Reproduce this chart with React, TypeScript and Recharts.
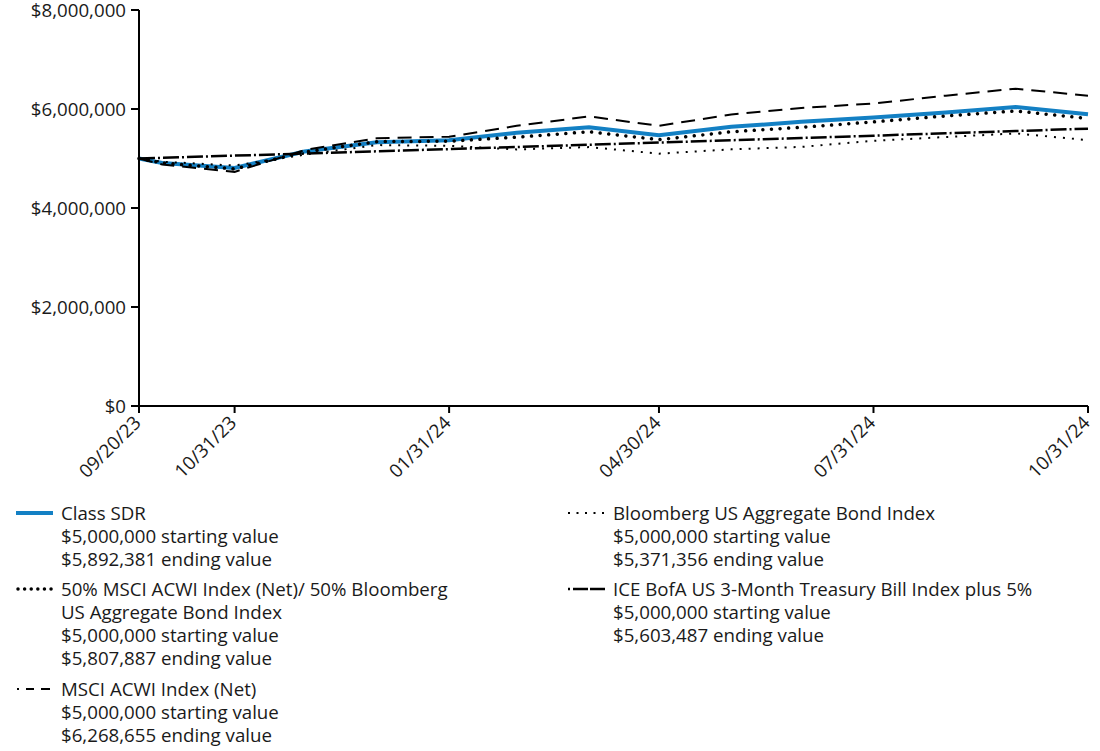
import React from 'react';
import { LineChart, Line, XAxis, YAxis } from 'recharts';

const dates = [
  '2023-09-20', '2023-09-30', '2023-10-31', '2023-11-30', '2023-12-31',
  '2024-01-31', '2024-02-29', '2024-03-31', '2024-04-30', '2024-05-31',
  '2024-06-30', '2024-07-31', '2024-08-31', '2024-09-30', '2024-10-31',
];
const classSDR = [5000000, 4910000, 4810000, 5140000, 5330000, 5370000, 5520000, 5630000, 5470000, 5640000, 5740000, 5830000, 5930000, 6040000, 5892381];
const blend5050 = [5000000, 4910000, 4790000, 5130000, 5340000, 5350000, 5430000, 5540000, 5380000, 5540000, 5630000, 5740000, 5860000, 5960000, 5807887];
const msciAcwi = [5000000, 4880000, 4730000, 5170000, 5410000, 5440000, 5660000, 5850000, 5660000, 5890000, 6020000, 6110000, 6270000, 6410000, 6268655];
const bbgAgg = [5000000, 4935000, 4857000, 5077000, 5271000, 5257000, 5183000, 5231000, 5098000, 5185000, 5234000, 5357000, 5434000, 5507000, 5371356];
const tbillPlus5 = [5000000, 5014000, 5058000, 5100000, 5145000, 5190000, 5232000, 5278000, 5322000, 5369000, 5414000, 5461000, 5509000, 5555000, 5603487];

const xTickDates = ['2023-09-20', '2023-10-31', '2024-01-31', '2024-04-30', '2024-07-31', '2024-10-31'];
const yTicks = [0, 2000000, 4000000, 6000000, 8000000];

const FONT = "'Open Sans', 'Noto Sans', sans-serif";
const FS = 18.7;
const TEXT = '#1a1a1a';
const BLUE = '#1380c4';

const toTs = (s: string) => {
  const [y, m, d] = s.split('-').map(Number);
  return Date.UTC(y, m - 1, d);
};
const pad = (n: number) => (n < 10 ? '0' + n : '' + n);
const fmtDate = (ts: number) => {
  const d = new Date(ts);
  return `${pad(d.getUTCMonth() + 1)}/${pad(d.getUTCDate())}/${pad(d.getUTCFullYear() % 100)}`;
};
const fmtMoney = (v: number) => '$' + String(Math.round(v)).replace(/\B(?=(\d{3})+(?!\d))/g, ',');

const data = dates.map((d, i) => ({
  t: toTs(d),
  sdr: classSDR[i],
  blend: blend5050[i],
  msci: msciAcwi[i],
  agg: bbgAgg[i],
  tbill: tbillPlus5[i],
}));
const xTicks = xTickDates.map(toTs);

const XTick = (props: any) => {
  const { x, y, payload } = props;
  return (
    <g transform={`translate(${x + 3},${y + 11})`}>
      <text x={0} y={0} textAnchor="end" transform="rotate(-45)" fontSize={FS} fill={TEXT} fontFamily={FONT}>
        {fmtDate(payload.value)}
      </text>
    </g>
  );
};

type LegendItem = { lines: string[]; sample: React.ReactNode; left: number; top: number };

const legendItems: LegendItem[] = [
  {
    lines: ['Class SDR', '$5,000,000 starting value', '$5,892,381 ending value'],
    left: 16, top: 501,
    sample: <line x1={0} y1={8} x2={37} y2={8} stroke={BLUE} strokeWidth={4} />,
  },
  {
    lines: ['50% MSCI ACWI Index (Net)/ 50% Bloomberg', 'US Aggregate Bond Index', '$5,000,000 starting value', '$5,807,887 ending value'],
    left: 16, top: 577,
    sample: <line x1={2} y1={8} x2={37} y2={8} stroke="#000" strokeWidth={3.5} strokeDasharray="0.01 6.6" strokeLinecap="round" />,
  },
  {
    lines: ['MSCI ACWI Index (Net)', '$5,000,000 starting value', '$6,268,655 ending value'],
    left: 16, top: 677,
    sample: (
      <g stroke="#000" strokeWidth={2}>
        <line x1={1} y1={8} x2={3} y2={8} />
        <line x1={10} y1={8} x2={18} y2={8} />
        <line x1={25} y1={8} x2={34} y2={8} />
      </g>
    ),
  },
  {
    lines: ['Bloomberg US Aggregate Bond Index', '$5,000,000 starting value', '$5,371,356 ending value'],
    left: 568, top: 501,
    sample: <line x1={0} y1={8} x2={37} y2={8} stroke="#000" strokeWidth={2} strokeDasharray="2 6.5" />,
  },
  {
    lines: ['ICE BofA US 3-Month Treasury Bill Index plus 5%', '$5,000,000 starting value', '$5,603,487 ending value'],
    left: 568, top: 577,
    sample: (
      <g stroke="#000" strokeWidth={2.5}>
        <line x1={0} y1={8} x2={2} y2={8} />
        <line x1={5} y1={8} x2={20} y2={8} />
        <line x1={22} y1={8} x2={37} y2={8} />
      </g>
    ),
  },
];

const Legend = () => (
  <>
    {legendItems.map((it, i) => (
      <div key={i} style={{ position: 'absolute', left: it.left, top: it.top, display: 'flex' }}>
        <svg width={40} height={23} style={{ display: 'block', marginTop: 4 }}>
          {it.sample}
        </svg>
        <div style={{ marginLeft: 5, fontSize: FS, lineHeight: '23px', color: TEXT, fontFamily: FONT, whiteSpace: 'nowrap' }}>
          {it.lines.map((l, j) => (
            <div key={j}>{l}</div>
          ))}
        </div>
      </div>
    ))}
  </>
);

export default function App() {
  return (
    <div style={{ position: 'absolute', left: 0, top: 0, width: 1100, height: 751, background: '#fff', fontFamily: FONT }}>
      <LineChart width={1100} height={500} data={data} margin={{ top: 10, right: 12, left: 0, bottom: 34 }}>
        <XAxis
          dataKey="t"
          type="number"
          domain={[xTicks[0], xTicks[xTicks.length - 1]]}
          ticks={xTicks}
          interval={0}
          tick={<XTick />}
          height={60}
          tickSize={7}
          tickMargin={0}
          axisLine={{ stroke: '#000', strokeWidth: 2 }}
          tickLine={{ stroke: '#000', strokeWidth: 2 }}
        />
        <YAxis
          domain={[0, 8000000]}
          ticks={yTicks}
          interval={0}
          width={139}
          tickFormatter={fmtMoney}
          tickSize={8}
          tickMargin={5}
          tick={{ fontSize: FS, fill: TEXT, fontFamily: FONT }}
          axisLine={{ stroke: '#000', strokeWidth: 2 }}
          tickLine={{ stroke: '#000', strokeWidth: 2 }}
        />
        <Line dataKey="sdr" stroke={BLUE} strokeWidth={4} dot={false} isAnimationActive={false} />
        <Line dataKey="blend" stroke="#000" strokeWidth={3.5} strokeDasharray="0.01 8.6" strokeLinecap="round" dot={false} isAnimationActive={false} />
        <Line dataKey="msci" stroke="#000" strokeWidth={2} strokeDasharray="14 8" dot={false} isAnimationActive={false} />
        <Line dataKey="agg" stroke="#000" strokeWidth={2} strokeDasharray="2 7" dot={false} isAnimationActive={false} />
        <Line dataKey="tbill" stroke="#000" strokeWidth={2.5} strokeDasharray="16 3 2 3" dot={false} isAnimationActive={false} />
      </LineChart>
      <Legend />
    </div>
  );
}
